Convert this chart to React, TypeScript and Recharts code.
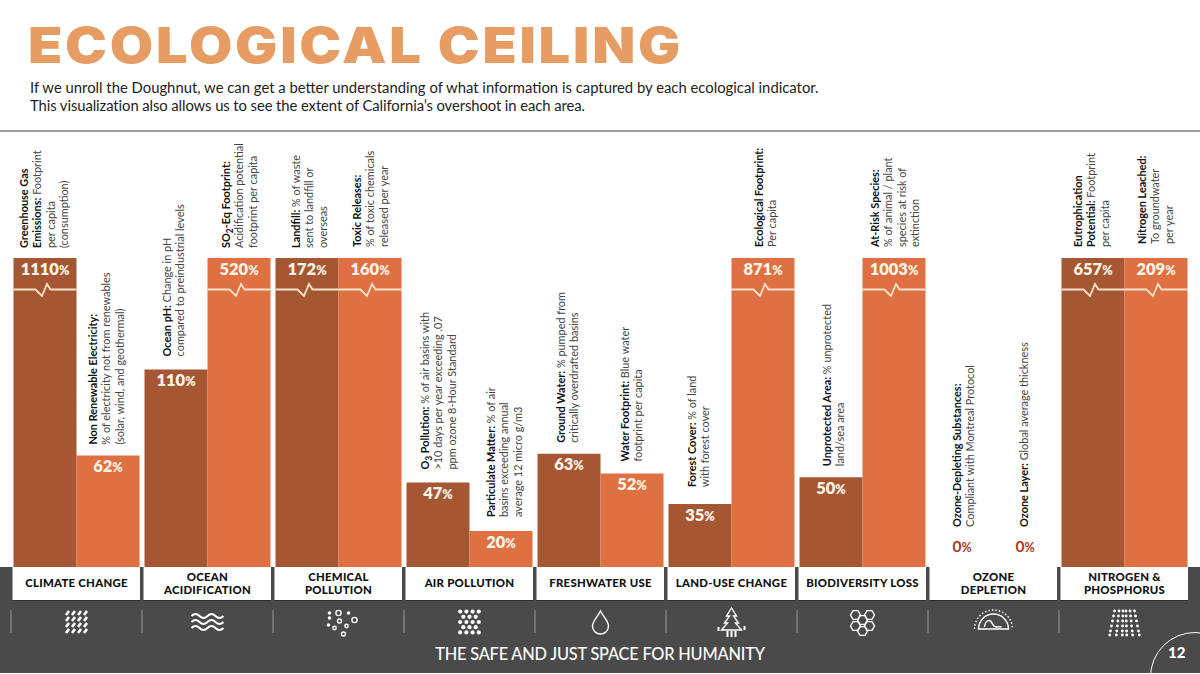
import { BarChart, Bar, XAxis, YAxis, LabelList } from "recharts";

const DARK = "#A55633";
const LIGHT = "#DF7042";
const CREAM = "#FBE4CB";
const FONT = "Lato, sans-serif";

const categories = [
  "CLIMATE CHANGE",
  "OCEAN|ACIDIFICATION",
  "CHEMICAL|POLLUTION",
  "AIR POLLUTION",
  "FRESHWATER USE",
  "LAND-USE CHANGE",
  "BIODIVERSITY LOSS",
  "OZONE|DEPLETION",
  "NITROGEN &|PHOSPHORUS",
];

// printed percentages
const darkValues = [1110, 110, 172, 47, 63, 35, 50, 0, 657];
const lightValues = [62, 520, 160, 20, 52, 871, 1003, 0, 209];

// height on the broken axis: anything overshooting far enough stops at the break top (172)
const darkDrawn = [172, 110, 172, 47, 63, 35, 50, 0, 172];
const lightDrawn = [62, 172, 172, 20, 52, 172, 172, 0, 172];

// "bold|regular" per line, _3 is a subscript
const darkNotes = [
  ["Greenhouse Gas|", "Emissions:| Footprint", "|per capita", "|(consumption)"],
  ["Ocean pH:| Change in pH", "|compared to preindustrial levels"],
  ["Landfill:| % of waste", "|sent to landfill or", "|overseas"],
  ["O_3 Pollution:| % of air basins with", "|>10 days per year exceeding .07", "|ppm ozone 8-Hour Standard"],
  ["Ground Water:| % pumped from", "|critically overdrafted basins"],
  ["Forest Cover:| % of land", "|with forest cover"],
  ["Unprotected Area:| % unprotected", "|land/sea area"],
  ["Ozone-Depleting Substances:|", "|Compliant with Montreal Protocol"],
  ["Eutrophication|", "Potential:| Footprint", "|per capita"],
];
const lightNotes = [
  ["Non Renewable Electricity:|", "|% of electricity not from renewables", "|(solar, wind, and geothermal)"],
  ["SO_2-Eq Footprint:|", "|Acidification potential", "|footprint per capita"],
  ["Toxic Releases:|", "|% of toxic chemicals", "|released per year"],
  ["Particulate Matter:| % of air", "|basins  exceeding annual", "|average 12 micro g/m3"],
  ["Water Footprint:| Blue water", "|footprint per capita"],
  ["Ecological Footprint:|", "|Per capita"],
  ["At-Risk Species:|", "|% of animal / plant", "|species at risk of", "|extinction"],
  ["Ozone Layer:| Global average thickness"],
  ["Nitrogen Leached:|", "|To groundwater", "|per year"],
];

const data = categories.map((name, i) => ({
  name,
  darkDrawn: darkDrawn[i],
  lightDrawn: lightDrawn[i],
}));

// label placement, bar left edge to first text line / bar top to text start
const darkInset = [11, 23, 21, 19, 24, 24, 28, 27, 17];
const lightInset = [17, 19, 19, 22, 25, 28, 13, 31, 18];
const darkGap = [10, 13, 10, 13, 11, 17, 11, 40, 11];
const lightGap = [11, 10, 11, 14, 12, 11, 11, 40, 14];

const NoteLine = ({ line, x, y }: { line: string; x: number; y: number }) => {
  const [bold, regular] = line.split("|");
  const parts = bold.split(/_(\d)/);
  return (
    <text
      x={x}
      y={y}
      transform={`rotate(-90 ${x} ${y})`}
      fontFamily={FONT}
      fontSize={10.9}
      fill="#444"
    >
      {parts.map((p, i) =>
        i % 2 === 1 ? (
          <tspan key={i} fontWeight={700} fontSize={8.5} dy={3} fill="#111">
            {p}
          </tspan>
        ) : (
          <tspan key={i} fontWeight={700} fill="#111" dy={i > 0 ? -3 : 0}>
            {p}
          </tspan>
        )
      )}
      <tspan>{regular}</tspan>
    </text>
  );
};

const makeBarLabel =
  (values: number[], notes: string[][], inset: number[], gap: number[]) => (props: any) => {
    const x = Number(props.x);
    const y = Number(props.y);
    const width = Number(props.width);
    const i = props.index;
    const value = values[i];
    const cx = x + width / 2;
    const broken = y <= 259 && Number(props.height) > 300;
    const isZero = value === 0;
    return (
      <g>
        {broken && (
          <path
            d={`M${x} 289.5H${cx - 9.5}l6.5 6.5 5-12 3.5 5.5H${x + width}`}
            fill="none"
            stroke={CREAM}
            strokeWidth={1.8}
          />
        )}
        <text
          x={cx}
          y={isZero ? y - 15 : y + 16.5}
          textAnchor="middle"
          fontFamily={FONT}
          fontWeight={isZero ? 700 : 800}
          fontSize={isZero ? 15.5 : 16.5}
          fill={isZero ? "#A8391F" : "#FDF3E7"}
        >
          {value}
          <tspan fontSize={12.5}>%</tspan>
        </text>
        {notes[i].map((line, k) => (
          <NoteLine key={k} line={line} x={x + inset[i] + 3.5 + k * 13.4} y={y - gap[i]} />
        ))}
      </g>
    );
  };

const dots = (rows: number[][], r = 1.7) =>
  rows.map(([x, y], i) => <circle key={i} cx={x} cy={y} r={r} fill="#fff" />);

const grid = (cols: number, nrows: number, dx: number, dy: number, skew = 0) => {
  const out: number[][] = [];
  for (let r = 0; r < nrows; r++) {
    for (let c = 0; c < cols; c++) {
      out.push([(c - (cols - 1) / 2) * dx + (r % 2) * skew, (r - (nrows - 1) / 2) * dy]);
    }
  }
  return out;
};

const hexPath = (x: number, y: number, r: number) =>
  `M${x - r} ${y}l${r / 2} ${-r * 0.87}h${r}l${r / 2} ${r * 0.87}l${-r / 2} ${r * 0.87}h${-r}z`;

const stroke = { fill: "none", stroke: "#fff", strokeWidth: 1.4 };

const icons = [
  () => (
    <g stroke="#fff" strokeWidth={2.6}>
      {grid(4, 4, 6, 6).map(([x, y], i) => (
        <line key={i} x1={x + 1.5} y1={y - 2} x2={x - 1.5} y2={y + 2} />
      ))}
    </g>
  ),
  () => (
    <g {...stroke} strokeWidth={2}>
      {[-6, 0, 6].map((y) => (
        <path key={y} d={`M-16 ${y}q4 -4 8 0t8 0t8 0t8 0`} />
      ))}
    </g>
  ),
  () => (
    <g {...stroke}>
      <circle cx={0} cy={-9} r={2.6} />
      <circle cx={16} cy={-2} r={2.6} />
      <circle cx={5} cy={12} r={2} />
      <circle cx={1} cy={-1} r={2} />
      <circle cx={-4} cy={6} r={1.7} />
      <circle cx={8} cy={4} r={1.7} />
      {dots([[-9, -4], [-9, -9], [10, -9], [-10, 3]], 1.1)}
    </g>
  ),
  () => (
    <g>
      {dots(grid(4, 5, 6.2, 5.2, -3.1).filter(([x]) => Math.abs(x) < 12), 2.1)}
    </g>
  ),
  () => <path {...stroke} d="M0 -11C-3 -5 -8 -1 -8 4a8 8 0 0 0 16 0C8 -1 3 -5 0 -11z" />,
  () => (
    <g {...stroke}>
      <path d="M0 -14l-5 8h3l-5 7h3l-6 7h20l-6 -7h3l-5 -7h3z" />
      <path d="M-4 9v6M0 9v6M4 9v6M-13 5v4M13 4v4" strokeWidth={2} />
    </g>
  ),
  () => (
    <g {...stroke}>
      {[[-7, -5], [7, -5], [0, 0], [-7, 6], [7, 6], [0, 11]].map(([x, y], i) => (
        <path key={i} d={hexPath(x, y - 2, 5)} />
      ))}
    </g>
  ),
  () => (
    <g {...stroke}>
      <path d="M-15 7a15 15 0 0 1 30 0z" />
      <path d="M-19 7a19 19 0 0 1 38 0" strokeDasharray="1.5 2" />
      <path d="M-9 5c1 -8 6 -8 8 -3s6 2 9 3" />
    </g>
  ),
  () => (
    <g>
      {[-10, -5.5, -1.5, 1.5, 5.5, 10].map((x, c) =>
        [-11, -6, -1, 4, 9, 13].map((y, r) => (
          <circle key={`${c}-${r}`} cx={x * (1 + (y + 11) / 50)} cy={y} r={1.4} fill="#fff" />
        ))
      )}
    </g>
  ),
];

const CategoryTick = (props: any) => {
  const { x, index, payload } = props;
  const lines = String(payload.value).split("|");
  const Icon = icons[index];
  return (
    <g>
      <rect x={x - 64} y={567} width={127.5} height={33} fill="#fff" />
      <rect x={x - 64} y={600} width={127.5} height={1} fill="#2e2e2e" />
      {lines.map((line, k) => (
        <text
          key={k}
          x={x}
          y={lines.length === 1 ? 587 : 581 + k * 13}
          textAnchor="middle"
          fontFamily={FONT}
          fontWeight={900}
          fontSize={11.4}
          letterSpacing={0.25}
          fill="#111"
        >
          {line}
        </text>
      ))}
      <line x1={x - 65.5} x2={x - 65.5} y1={610} y2={633} stroke="#9b9b9b" strokeWidth={1} />
      <g transform={`translate(${x} 622)`}>
        <Icon />
      </g>
    </g>
  );
};

const App = () => (
  <div style={{ position: "absolute", left: 0, top: 0, width: 1200, height: 674, background: "#fff", overflow: "hidden" }}>
    <div
      style={{
        position: "absolute",
        left: 28,
        top: 15,
        fontFamily: "Inter, sans-serif",
        fontWeight: 900,
        fontSize: 50,
        letterSpacing: 2.5,
        color: "#E69C62",
        whiteSpace: "nowrap",
        transform: "scaleX(1.12)",
        transformOrigin: "left center",
      }}
    >
      ECOLOGICAL CEILING
    </div>
    <div
      style={{
        position: "absolute",
        left: 30,
        top: 78,
        fontFamily: FONT,
        fontSize: 14.84,
        lineHeight: "18px",
        color: "#222",
        whiteSpace: "nowrap",
      }}
    >
      If we unroll the Doughnut, we can get a better understanding of what information is captured by each ecological indicator.
      <br />
      <span style={{ letterSpacing: -0.09 }}>
        This visualization also allows us to see the extent of California’s overshoot in each area.
      </span>
    </div>
    <div style={{ position: "absolute", left: 0, top: 130, width: 1200, height: 2, background: "#9c9c9c" }} />
    <div style={{ position: "absolute", left: 0, top: 567, width: 1200, height: 106, background: "#4A4A4A" }} />
    <div style={{ position: "absolute", left: 0, top: 0 }}>
      <BarChart
        width={1200}
        height={674}
        data={data}
        margin={{ top: 258, right: 10, bottom: 0, left: 11 }}
        barCategoryGap={2.5}
        barGap={0}
      >
        <XAxis
          dataKey="name"
          interval={0}
          height={107}
          axisLine={false}
          tickLine={false}
          tick={<CategoryTick />}
        />
        <YAxis hide domain={[0, 172]} />
        <Bar dataKey="darkDrawn" fill={DARK} minPointSize={0.1} isAnimationActive={false}>
          <LabelList content={makeBarLabel(darkValues, darkNotes, darkInset, darkGap)} />
        </Bar>
        <Bar dataKey="lightDrawn" fill={LIGHT} minPointSize={0.1} isAnimationActive={false}>
          <LabelList content={makeBarLabel(lightValues, lightNotes, lightInset, lightGap)} />
        </Bar>
      </BarChart>
    </div>
    <div
      style={{
        position: "absolute",
        left: 0,
        width: 1200,
        top: 644,
        textAlign: "center",
        fontFamily: FONT,
        fontWeight: 500,
        fontSize: 16.35,
        lineHeight: "20px",
        letterSpacing: -0.2,
        color: "#fff",
      }}
    >
      THE SAFE AND JUST SPACE FOR HUMANITY
    </div>
    <div
      style={{
        position: "absolute",
        left: 1150,
        top: 632,
        width: 90,
        height: 90,
        borderRadius: "50%",
        border: "1.5px solid #fff",
        boxSizing: "border-box",
      }}
    />
    <div
      style={{
        position: "absolute",
        left: 1168,
        top: 644,
        fontFamily: FONT,
        fontWeight: 900,
        fontSize: 15,
        lineHeight: "16px",
        color: "#fff",
      }}
    >
      12
    </div>
  </div>
);

export default App;
